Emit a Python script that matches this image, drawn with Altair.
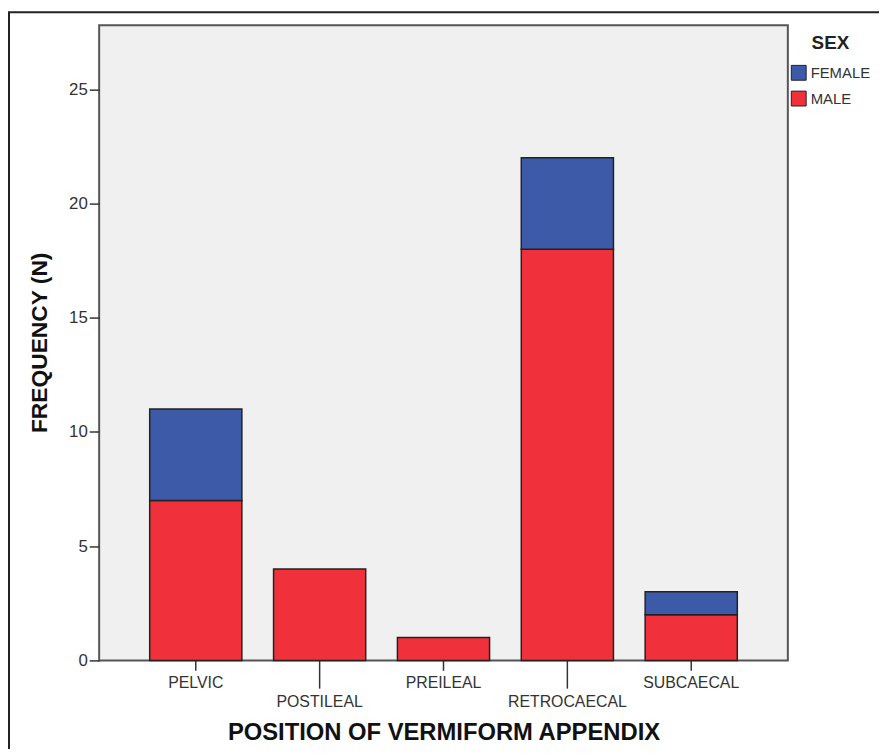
import altair as alt
import pandas as pd

positions = ["PELVIC", "POSTILEAL", "PREILEAL", "RETROCAECAL", "SUBCAECAL"]
male = [7, 4, 1, 18, 2]
female = [4, 0, 0, 4, 1]
sexes = ["FEMALE", "MALE"]
colors = ["#3d5aa9", "#f0313b"]
y_ticks = [0, 5, 10, 15, 20, 25]
lower_labels = ["POSTILEAL", "RETROCAECAL"]

rows = []
for p, m, f in zip(positions, male, female):
    if m > 0:
        rows.append({"position": p, "sex": "MALE", "n": m, "ord": 0})
    if f > 0:
        rows.append({"position": p, "sex": "FEMALE", "n": f, "ord": 1})
df = pd.DataFrame(rows)

low_test = "indexof(" + str(lower_labels) + ", datum.value) >= 0"

bars = alt.Chart(df).mark_bar(stroke="#222222", strokeWidth=1.5).encode(
    x=alt.X(
        "position:N",
        sort=positions,
        scale=alt.Scale(paddingInner=0.256, paddingOuter=0.408),
        axis=alt.Axis(
            title="POSITION OF VERMIFORM APPENDIX",
            titleFont="Liberation Sans",
            titleFontSize=24,
            titleFontWeight="bold",
            titleColor="#111111",
            titleX=347.5,
            titleY=80,
            titleBaseline="alphabetic",
            titleAnchor="middle",
            labelAngle=0,
            labelFont="Liberation Sans",
            labelFontSize=16,
            labelColor="#333333",
            labelBaseline="top",
            labelPadding=alt.ConditionalAxisNumber(condition={"test": low_test, "value": 6}, value=4),
            tickSize={"condition": {"test": low_test, "value": 28}, "value": 10},
            tickColor="#333333",
            tickWidth=1.5,
            domain=False,
        ),
    ),
    y=alt.Y(
        "n:Q",
        stack="zero",
        scale=alt.Scale(domain=[0, 27.8], nice=False, zero=True),
        axis=alt.Axis(
            values=y_ticks,
            title="FREQUENCY (N)",
            titleFont="Liberation Sans",
            titleFontSize=23,
            titleFontWeight="bold",
            titleColor="#111111",
            titleAngle=270,
            titleX=-53,
            titleY=320,
            titleBaseline="alphabetic",
            titleAlign="center",
            labelFont="Liberation Sans",
            labelFontSize=17,
            labelColor="#333333",
            labelPadding=2,
            tickSize=10,
            tickColor="#333333",
            tickWidth=1.5,
            domain=False,
            grid=False,
        ),
    ),
    color=alt.Color(
        "sex:N",
        scale=alt.Scale(domain=sexes, range=colors),
        legend=alt.Legend(
            title="SEX",
            orient="none",
            legendX=698,
            legendY=9,
            titleFont="Liberation Sans",
            titleFontSize=19,
            titleFontWeight="bold",
            titleColor="#222222",
            titleAnchor="middle",
            titlePadding=12,
            labelFont="Liberation Sans",
            labelFontSize=15,
            labelColor="#333333",
            labelOffset=4,
            symbolType="square",
            symbolSize=225,
            symbolStrokeColor="#222222",
            symbolStrokeWidth=1,
            symbolOpacity=1,
            rowPadding=6,
        ),
    ),
    order=alt.Order("ord:Q", sort="ascending"),
)

frame = alt.Chart(pd.DataFrame({"f": [0]})).mark_rect(
    filled=False, stroke="#222222", strokeWidth=2
).encode(
    x=alt.value(-91), x2=alt.value(1000), y=alt.value(-13), y2=alt.value(1000)
)

chart = alt.layer(bars, frame).properties(
    width=695,
    height=641,
    padding={"left": 92, "top": 14, "right": 92, "bottom": 86},
    autosize=alt.AutoSizeParams(type="none"),
).configure_view(
    fill="#f0f0f0", stroke="#555555", strokeWidth=2
)

chart.save("out.html", embed_options={"renderer": "svg", "actions": False})
